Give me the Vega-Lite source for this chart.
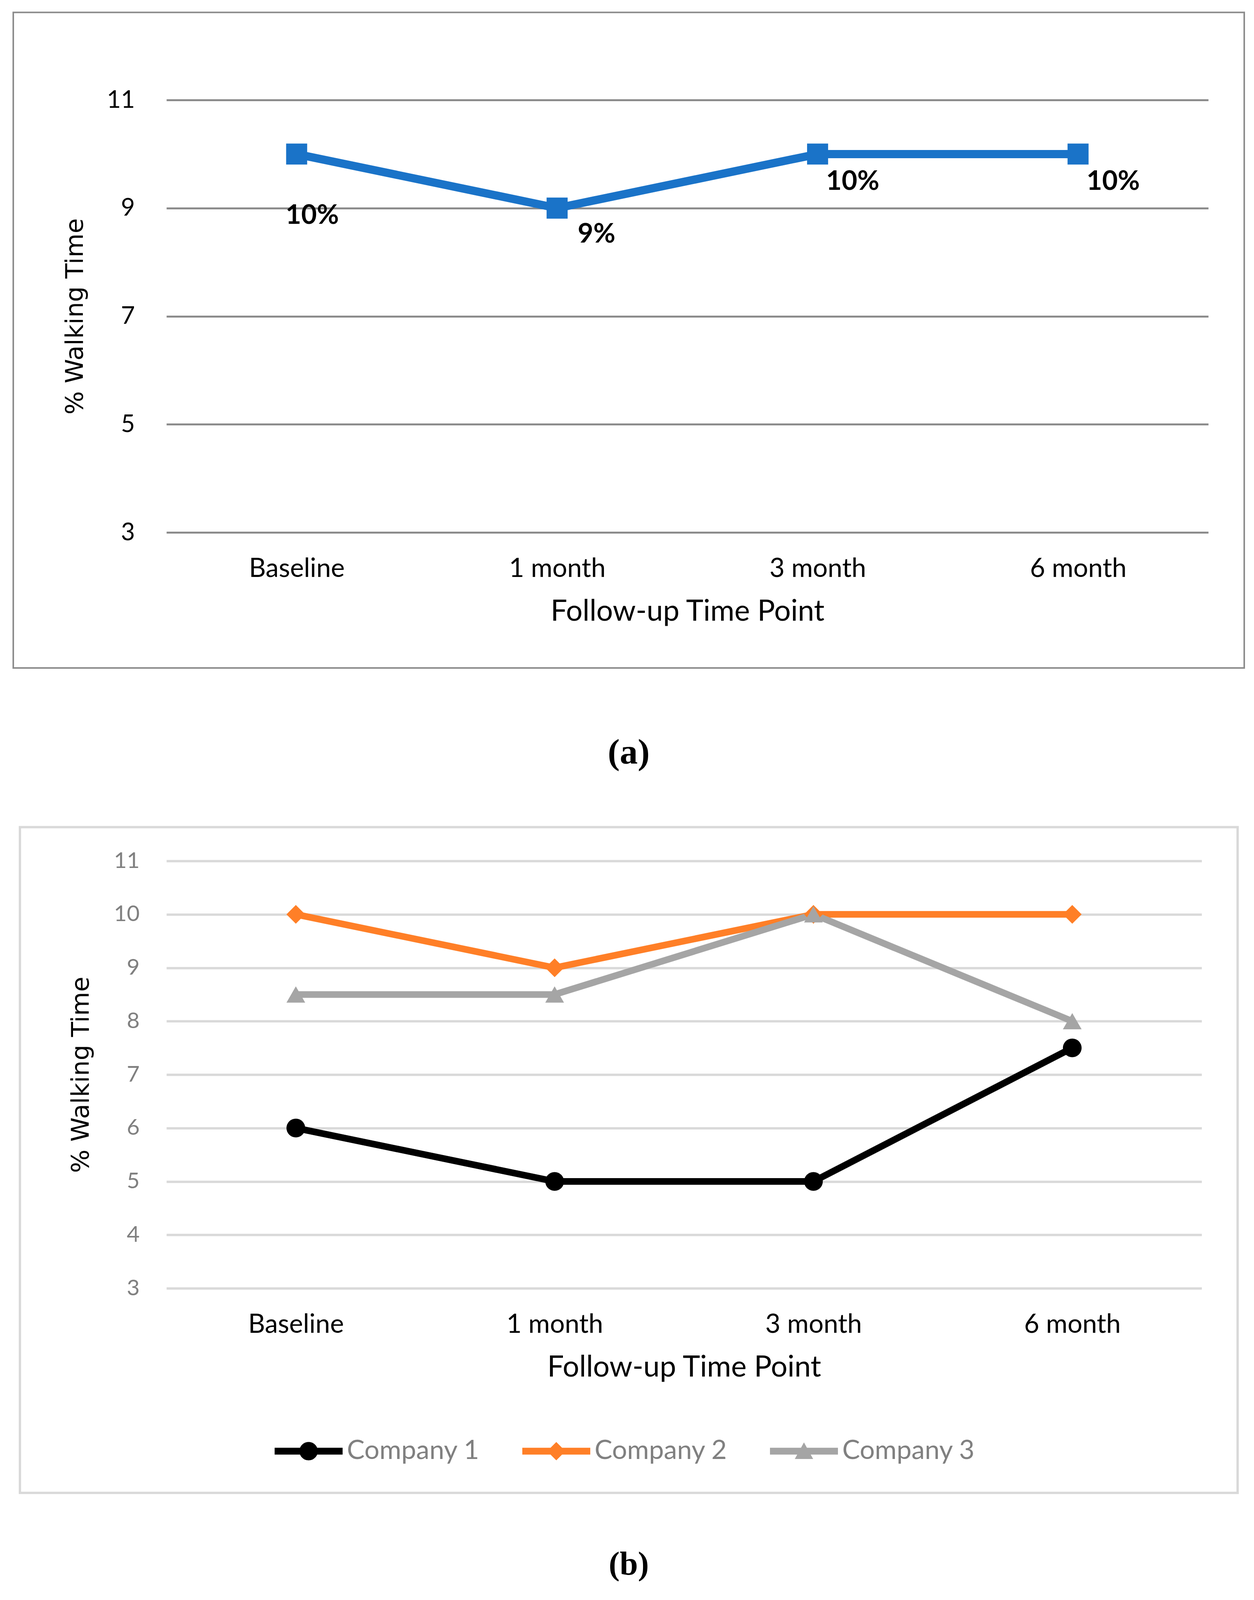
{
  "$schema": "https://vega.github.io/schema/vega-lite/v6.json",
  "background": "white",
  "padding": {"left": 31, "top": 29, "right": 20, "bottom": 0},
  "spacing": 140,
  "config": {"view": {"stroke": null}, "font": "Lato"},
  "resolve": {"scale": {"color": "independent", "x": "independent", "y": "independent"}, "legend": {"color": "independent"}},
  "datasets": {
    "top": [
      {"t": 0, "time": "Baseline", "value": 10, "label": "10%"},
      {"t": 1, "time": "1 month", "value": 9, "label": "9%"},
      {"t": 2, "time": "3 month", "value": 10, "label": "10%"},
      {"t": 3, "time": "6 month", "value": 10, "label": "10%"}
    ],
    "bottom": [
      {"t": 0, "time": "Baseline", "company": "Company 1", "value": 6},
      {"t": 1, "time": "1 month", "company": "Company 1", "value": 5},
      {"t": 2, "time": "3 month", "company": "Company 1", "value": 5},
      {"t": 3, "time": "6 month", "company": "Company 1", "value": 7.5},
      {"t": 0, "time": "Baseline", "company": "Company 2", "value": 10},
      {"t": 1, "time": "1 month", "company": "Company 2", "value": 9},
      {"t": 2, "time": "3 month", "company": "Company 2", "value": 10},
      {"t": 3, "time": "6 month", "company": "Company 2", "value": 10},
      {"t": 0, "time": "Baseline", "company": "Company 3", "value": 8.5},
      {"t": 1, "time": "1 month", "company": "Company 3", "value": 8.5},
      {"t": 2, "time": "3 month", "company": "Company 3", "value": 10},
      {"t": 3, "time": "6 month", "company": "Company 3", "value": 8}
    ],
    "frame": [{"frame": "border"}]
  },
  "vconcat": [
    {
      "width": 2667,
      "height": 1107,
      "title": {"text": "(a)", "orient": "bottom", "anchor": "middle", "frame": "bounds", "offset": 170, "font": "Liberation Serif", "fontSize": 92, "fontWeight": "bold", "color": "#000000"},
      "layer": [
        {
          "data": {"name": "top"},
          "encoding": {
            "x": {
              "field": "t", "type": "quantitative",
              "scale": {"domain": [-0.5, 3.5], "nice": false, "zero": false},
              "axis": {
                "values": [0, 1, 2, 3],
                "labelExpr": "['Baseline','1 month','3 month','6 month'][datum.value]",
                "grid": false, "domain": false, "ticks": false, "labelFlush": false, "labelOverlap": false, "labelLimit": 0,
                "labelFont": "Lato", "labelFontSize": 67, "labelColor": "#000000", "labelPadding": 60,
                "title": "Follow-up Time Point", "titleFont": "Lato", "titleFontSize": 75, "titleFontWeight": "normal", "titleColor": "#000000", "titlePadding": 40
              }
            },
            "y": {
              "field": "value", "type": "quantitative",
              "scale": {"domain": [3, 11], "nice": false, "zero": false},
              "axis": {
                "values": [3, 5, 7, 9, 11],
                "grid": true, "gridColor": "#8c8c8c", "gridWidth": 5, "domain": false, "ticks": false, "labelLimit": 0,
                "labelFont": "Lato", "labelFontSize": 62, "labelColor": "#000000", "labelPadding": 81,
                "title": "% Walking Time", "titleFont": "DejaVu Sans", "titleFontSize": 63, "titleFontWeight": "normal", "titleColor": "#000000", "titlePadding": 49
              }
            }
          },
          "layer": [
            {"mark": {"type": "line", "color": "#1a73c8", "strokeWidth": 21}},
            {"mark": {"type": "point", "shape": "square", "filled": true, "size": 2900, "color": "#1a73c8", "opacity": 1}},
            {
              "transform": [{"filter": "datum.t === 0"}],
              "mark": {"type": "text", "font": "Lato", "fontWeight": "bold", "fontSize": 69, "color": "#000000", "align": "center", "baseline": "middle", "dx": 40, "dy": 158},
              "encoding": {"text": {"field": "label"}}
            },
            {
              "transform": [{"filter": "datum.t === 1"}],
              "mark": {"type": "text", "font": "Lato", "fontWeight": "bold", "fontSize": 69, "color": "#000000", "align": "center", "baseline": "middle", "dx": 101, "dy": 67},
              "encoding": {"text": {"field": "label"}}
            },
            {
              "transform": [{"filter": "datum.t >= 2"}],
              "mark": {"type": "text", "font": "Lato", "fontWeight": "bold", "fontSize": 69, "color": "#000000", "align": "center", "baseline": "middle", "dx": 90, "dy": 71},
              "encoding": {"text": {"field": "label"}}
            }
          ]
        },
        {
          "data": {"name": "frame"},
          "mark": {"type": "rect", "filled": false, "stroke": "#8c8c8c", "strokeWidth": 4, "clip": false},
          "encoding": {
            "x": {
              "datum": -1.088, "type": "quantitative",
              "scale": {"domain": [-0.5, 3.5], "nice": false, "zero": false},
              "axis": {
                "values": [0, 1, 2, 3],
                "labelExpr": "['Baseline','1 month','3 month','6 month'][datum.value]",
                "grid": false, "domain": false, "ticks": false, "labelFlush": false, "labelOverlap": false, "labelLimit": 0,
                "labelFont": "Lato", "labelFontSize": 67, "labelColor": "#000000", "labelPadding": 60,
                "title": "Follow-up Time Point", "titleFont": "Lato", "titleFontSize": 75, "titleFontWeight": "normal", "titleColor": "#000000", "titlePadding": 40
              }
            },
            "x2": {"datum": 3.638},
            "y": {
              "datum": 12.62, "type": "quantitative",
              "scale": {"domain": [3, 11], "nice": false, "zero": false},
              "axis": {
                "values": [3, 5, 7, 9, 11],
                "grid": true, "gridColor": "#8c8c8c", "gridWidth": 5, "domain": false, "ticks": false, "labelLimit": 0,
                "labelFont": "Lato", "labelFontSize": 62, "labelColor": "#000000", "labelPadding": 81,
                "title": "% Walking Time", "titleFont": "DejaVu Sans", "titleFontSize": 63, "titleFontWeight": "normal", "titleColor": "#000000", "titlePadding": 49
              }
            },
            "y2": {"datum": 0.492}
          }
        }
      ]
    },
    {
      "width": 2650,
      "height": 1094,
      "title": {"text": "(b)", "orient": "bottom", "anchor": "middle", "frame": "bounds", "offset": 140, "font": "Liberation Serif", "fontSize": 84, "fontWeight": "bold", "color": "#000000"},
      "layer": [
        {
          "data": {"name": "bottom"},
          "encoding": {
            "x": {
              "field": "t", "type": "quantitative",
              "scale": {"domain": [-0.5, 3.5], "nice": false, "zero": false},
              "axis": {
                "values": [0, 1, 2, 3],
                "labelExpr": "['Baseline','1 month','3 month','6 month'][datum.value]",
                "grid": false, "domain": false, "ticks": false, "labelFlush": false, "labelOverlap": false, "labelLimit": 0,
                "labelFont": "Lato", "labelFontSize": 67, "labelColor": "#000000", "labelPadding": 60,
                "title": "Follow-up Time Point", "titleFont": "Lato", "titleFontSize": 75, "titleFontWeight": "normal", "titleColor": "#000000", "titlePadding": 40
              }
            },
            "y": {
              "field": "value", "type": "quantitative",
              "scale": {"domain": [3, 11], "nice": false, "zero": false},
              "axis": {
                "values": [3, 4, 5, 6, 7, 8, 9, 10, 11],
                "grid": true, "gridColor": "#d9d9d9", "gridWidth": 6, "domain": false, "ticks": false, "labelLimit": 0,
                "labelFont": "Lato", "labelFontSize": 57, "labelColor": "#808080", "labelPadding": 69,
                "title": "% Walking Time", "titleFont": "DejaVu Sans", "titleFontSize": 63, "titleFontWeight": "normal", "titleColor": "#000000", "titlePadding": 51
              }
            },
            "color": {
              "field": "company", "type": "nominal",
              "scale": {"domain": ["Company 1", "Company 2", "Company 3"], "range": ["#000000", "#ff7f27", "#a5a5a5"]},
              "legend": {
                "orient": "none", "legendX": 277, "legendY": 1424, "direction": "horizontal", "title": null,
                "labelFont": "Lato", "labelFontSize": 68, "labelColor": "#808080", "labelOffset": 11, "columnPadding": 108, "labelLimit": 0,
                "symbolSize": 30276, "labelBaseline": "middle",
                "encode": {
                  "symbols": {
                    "update": {
                      "shape": {"signal": "datum.value === 'Company 1' ? 'M-1,-0.1H1V0.1H-1Z M-0.27,0A0.27,0.27 0 1,1 0.27,0A0.27,0.27 0 1,1 -0.27,0Z' : datum.value === 'Company 2' ? 'M-1,-0.1H1V0.1H-1Z M0,-0.27L0.27,0L0,0.27L-0.27,0Z' : 'M-1,-0.1H1V0.1H-1Z M0,-0.26L0.27,0.23L-0.27,0.23Z'"},
                      "fill": {"signal": "datum.value === 'Company 1' ? '#000000' : datum.value === 'Company 2' ? '#ff7f27' : '#a5a5a5'"},
                      "stroke": {"value": "transparent"},
                      "strokeWidth": {"value": 0},
                      "opacity": {"value": 1},
                      "size": {"value": 30276}
                    }
                  }
                }
              }
            }
          },
          "layer": [
            {"mark": {"type": "line", "strokeWidth": 17}},
            {
              "transform": [{"filter": "datum.company === 'Company 1'"}],
              "mark": {"type": "point", "shape": "circle", "filled": true, "size": 2300, "opacity": 1}
            },
            {
              "transform": [{"filter": "datum.company === 'Company 2'"}],
              "mark": {"type": "point", "shape": "diamond", "filled": true, "size": 2300, "opacity": 1}
            },
            {
              "transform": [{"filter": "datum.company === 'Company 3'"}],
              "mark": {"type": "point", "shape": "triangle-up", "filled": true, "size": 2300, "opacity": 1}
            }
          ]
        },
        {
          "data": {"name": "frame"},
          "mark": {"type": "rect", "filled": false, "stroke": "#d9d9d9", "strokeWidth": 6, "clip": false},
          "encoding": {
            "x": {
              "datum": -1.066, "type": "quantitative",
              "scale": {"domain": [-0.5, 3.5], "nice": false, "zero": false},
              "axis": {
                "values": [0, 1, 2, 3],
                "labelExpr": "['Baseline','1 month','3 month','6 month'][datum.value]",
                "grid": false, "domain": false, "ticks": false, "labelFlush": false, "labelOverlap": false, "labelLimit": 0,
                "labelFont": "Lato", "labelFontSize": 67, "labelColor": "#000000", "labelPadding": 60,
                "title": "Follow-up Time Point", "titleFont": "Lato", "titleFontSize": 75, "titleFontWeight": "normal", "titleColor": "#000000", "titlePadding": 40
              }
            },
            "x2": {"datum": 3.639},
            "y": {
              "datum": 11.633, "type": "quantitative",
              "scale": {"domain": [3, 11], "nice": false, "zero": false},
              "axis": {
                "values": [3, 4, 5, 6, 7, 8, 9, 10, 11],
                "grid": true, "gridColor": "#d9d9d9", "gridWidth": 6, "domain": false, "ticks": false, "labelLimit": 0,
                "labelFont": "Lato", "labelFontSize": 57, "labelColor": "#808080", "labelPadding": 69,
                "title": "% Walking Time", "titleFont": "DejaVu Sans", "titleFontSize": 63, "titleFontWeight": "normal", "titleColor": "#000000", "titlePadding": 51
              }
            },
            "y2": {"datum": -0.83}
          }
        }
      ]
    }
  ]
}
